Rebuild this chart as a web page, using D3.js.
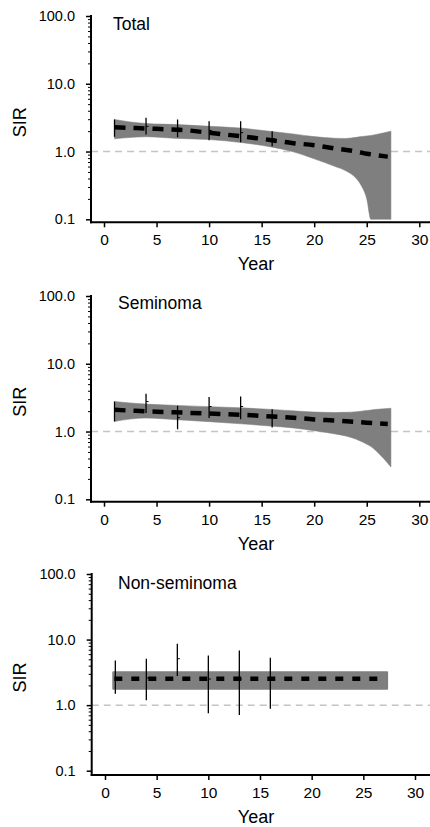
<!DOCTYPE html>
<html>
<head>
  <meta charset="utf-8">
  <script src="https://cdn.jsdelivr.net/npm/d3@7"></script>
  <style>
    body { margin: 0; background: #fff; }
    text { font-family: "Liberation Sans", Arial, sans-serif; fill: #000; }
  </style>
</head>
<body>
  <svg width="430" height="827"></svg>
  <script>
    // --- data ---
    var titles = ["Total", "Seminoma", "Non-seminoma"];
    var xTicks = [0, 5, 10, 15, 20, 25, 30];
    var yTicks = [0.1, 1, 10, 100];

    // fitted SIR curve (dashed)
    var fitYears = [1, 3, 5, 8, 10, 13, 15, 18, 20, 22, 24, 25, 27];
    var totalFit = [2.29, 2.22, 2.16, 2.05, 1.89, 1.68, 1.54, 1.33, 1.24, 1.11, 1.00, 0.93, 0.84];
    var semiFit  = [2.09, 2.02, 1.96, 1.89, 1.84, 1.77, 1.70, 1.60, 1.51, 1.45, 1.38, 1.35, 1.29];
    var nonFitYears = [0.9, 27.2];
    var nonFit = [2.53, 2.53];

    // confidence band
    var bandYears  = [1, 4, 7, 10, 13, 16, 18, 20, 22, 23, 24, 24.5, 25, 25.4, 26, 27.3];
    var totalUpper = [2.97, 2.59, 2.50, 2.36, 2.22, 1.97, 1.82, 1.66, 1.57, 1.56, 1.62, 1.66, 1.70, 1.73, 1.80, 2.00];
    var totalLower = [1.54, 1.65, 1.56, 1.50, 1.36, 1.16, 0.99, 0.78, 0.60, 0.52, 0.40, 0.31, 0.20, 0.10, 0.10, 0.10];
    var semiUpper  = [2.77, 2.54, 2.43, 2.33, 2.24, 2.12, 2.02, 1.94, 1.91, 1.92, 1.96, 2.00, 2.04, 2.08, 2.13, 2.21];
    var semiLower  = [1.41, 1.58, 1.49, 1.40, 1.30, 1.20, 1.13, 1.03, 0.92, 0.86, 0.77, 0.71, 0.65, 0.60, 0.50, 0.30];
    var nonBandYears = [0.8, 27.3];
    var nonUpper = [3.18, 3.18];
    var nonLower = [1.78, 1.78];

    // observed SIR with 95% CI (vertical bars)
    var barYears = [1, 4, 7, 10, 13, 16];
    var totalEst = [2.25, 2.35, 2.20, 2.05, 1.90, 1.55];
    var totalLo  = [1.65, 1.78, 1.63, 1.47, 1.37, 1.20];
    var totalHi  = [2.97, 3.15, 2.97, 2.80, 2.80, 2.00];
    var semiEst  = [2.00, 2.77, 1.60, 2.34, 2.34, 1.60];
    var semiLo   = [1.41, 1.87, 1.08, 1.58, 1.52, 1.15];
    var semiHi   = [2.77, 3.60, 2.40, 3.22, 3.29, 2.14];
    var nonEst   = [2.60, 2.60, 5.10, 2.50, 2.50, 2.50];
    var nonLo    = [1.49, 1.19, 2.77, 0.75, 0.71, 0.88];
    var nonHi    = [4.80, 5.10, 8.60, 5.70, 6.80, 5.30];

    var series = [
      { fx: fitYears, fit: totalFit, bx: bandYears, up: totalUpper, lo: totalLower, est: totalEst, ciLo: totalLo, ciHi: totalHi },
      { fx: fitYears, fit: semiFit, bx: bandYears, up: semiUpper, lo: semiLower, est: semiEst, ciLo: semiLo, ciHi: semiHi },
      { fx: nonFitYears, fit: nonFit, bx: nonBandYears, up: nonUpper, lo: nonLower, est: nonEst, ciLo: nonLo, ciHi: nonHi }
    ];

    // --- layout of the three panels ---
    var layouts = [
      { x0: 104, x1: 419.3, yTop: 16,  yBot: 219.3, axisX: 91,   axisY: 222.3, titleX: 113, titleY: 30,  dash: "11,8" },
      { x0: 104, x1: 419.3, yTop: 296, yBot: 499.3, axisX: 91,   axisY: 501.7, titleX: 118, titleY: 309, dash: "11,8" },
      { x0: 105, x1: 415,   yTop: 574, yBot: 770.7, axisX: 91.7, axisY: 775,   titleX: 118, titleY: 589, dash: "8,9" }
    ];

    var svg = d3.select("svg");
    var W = 430;

    var minors = [];
    [0.1, 1, 10].forEach(function(d) {
      for (var k = 2; k <= 9; k++) minors.push(+(d * k).toPrecision(3));
    });

    series.forEach(function(s, i) {
      var L = layouts[i];
      var x = d3.scaleLinear().domain([0, 30]).range([L.x0, L.x1]);
      var y = d3.scaleLog().domain([0.1, 100]).range([L.yBot, L.yTop]);
      var g = svg.append("g");

      // reference line at SIR = 1
      g.append("line")
        .attr("x1", L.axisX).attr("x2", W)
        .attr("y1", y(1)).attr("y2", y(1))
        .attr("stroke", "#c4c4c4")
        .attr("stroke-width", 1.5)
        .attr("stroke-dasharray", "7,5");

      // band
      var band = s.bx.map(function(d, j) { return [d, s.lo[j], s.up[j]]; });
      var area = d3.area()
        .x(function(d) { return x(d[0]); })
        .y0(function(d) { return y(Math.max(0.1, d[1])); })
        .y1(function(d) { return y(d[2]); })
        .curve(d3.curveMonotoneX);
      g.append("path")
        .datum(band)
        .attr("d", area)
        .attr("fill", "#7f7f7f")
        .attr("stroke", "#7f7f7f")
        .attr("stroke-width", i == 2 ? 2 : 0.5)
        .attr("stroke-linejoin", "round");

      // error bars
      var bars = barYears.map(function(d, j) { return [d, s.ciLo[j], s.ciHi[j], s.est[j]]; });
      g.selectAll(".bar")
        .data(bars)
        .enter().append("line")
        .attr("x1", function(d) { return x(d[0]); })
        .attr("x2", function(d) { return x(d[0]); })
        .attr("y1", function(d) { return y(d[1]); })
        .attr("y2", function(d) { return y(d[2]); })
        .attr("stroke", "#000")
        .attr("stroke-width", 1.3);
      g.selectAll(".est")
        .data(bars)
        .enter().append("line")
        .attr("x1", function(d) { return x(d[0]); })
        .attr("x2", function(d) { return x(d[0]) + 2.5; })
        .attr("y1", function(d) { return y(d[3]); })
        .attr("y2", function(d) { return y(d[3]); })
        .attr("stroke", "#000")
        .attr("stroke-width", 1);

      // fitted line
      var pts = s.fx.map(function(d, j) { return [d, s.fit[j]]; });
      var line = d3.line()
        .x(function(d) { return x(d[0]); })
        .y(function(d) { return y(d[1]); })
        .curve(d3.curveMonotoneX);
      g.append("path")
        .datum(pts)
        .attr("d", line)
        .attr("fill", "none")
        .attr("stroke", "#000")
        .attr("stroke-width", 4.5)
        .attr("stroke-dasharray", L.dash);

      // axes
      var yAxis = g.append("g")
        .attr("transform", "translate(" + L.axisX + ",0)")
        .call(d3.axisLeft(y).tickValues(yTicks).tickFormat(d3.format(".1f")).tickSize(5).tickPadding(11));
      yAxis.select(".domain").remove();
      yAxis.selectAll("line").attr("stroke-width", 1.5);
      yAxis.selectAll("text").style("font-size", "14.5px");

      var yMinor = g.append("g")
        .attr("transform", "translate(" + L.axisX + ",0)")
        .call(d3.axisLeft(y).tickValues(minors).tickFormat("").tickSize(3));
      yMinor.select(".domain").remove();
      yMinor.selectAll("line").attr("stroke-width", 1);

      var xAxis = g.append("g")
        .attr("transform", "translate(0," + L.axisY + ")")
        .call(d3.axisBottom(x).tickValues(xTicks).tickSize(5).tickPadding(7));
      xAxis.select(".domain").remove();
      xAxis.selectAll("line").attr("stroke-width", 1.5);
      xAxis.selectAll("text").style("font-size", "15.5px");

      g.append("line")
        .attr("x1", L.axisX).attr("x2", L.axisX)
        .attr("y1", L.yTop - 1).attr("y2", L.axisY + 1)
        .attr("stroke", "#000").attr("stroke-width", 2);
      g.append("line")
        .attr("x1", L.axisX - 1).attr("x2", W)
        .attr("y1", L.axisY).attr("y2", L.axisY)
        .attr("stroke", "#000").attr("stroke-width", 2);

      // labels
      g.append("text")
        .attr("x", L.titleX).attr("y", L.titleY)
        .style("font-size", "17.5px")
        .text(titles[i]);
      g.append("text")
        .attr("x", 256).attr("y", L.axisY + 48)
        .attr("text-anchor", "middle")
        .style("font-size", "18px")
        .text("Year");
      g.append("text")
        .attr("transform", "translate(26," + ((L.yTop + L.axisY) / 2 + 3) + ") rotate(-90)")
        .attr("text-anchor", "middle")
        .style("font-size", "18px")
        .text("SIR");
    });
  </script>
</body>
</html>
